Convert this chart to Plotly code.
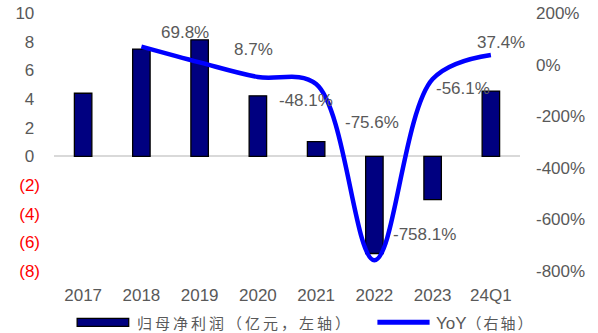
import plotly.graph_objects as go

# Net profit attributable to parent (100M CNY, left axis) and YoY growth (%, right axis)
categories = ["2017", "2018", "2019", "2020", "2021", "2022", "2023", "24Q1"]
net_profit = [4.40, 7.48, 8.13, 4.22, 1.03, -6.78, -3.02, 4.55]
yoy_pct = [None, 69.8, 8.7, -48.1, -75.6, -758.1, -56.1, 37.4]
yoy_labels = [None, "69.8%", "8.7%", "-48.1%", "-75.6%", "-758.1%", "-56.1%", "37.4%"]

left_ticks = [10, 8, 6, 4, 2, 0, -2, -4, -6, -8]
right_ticks = [200, 0, -200, -400, -600, -800]

bar_name = "归母净利润（亿元，左轴）"
line_name_latin = "YoY"
line_name_cjk = "（右轴）"

GREY = "#595959"
FONT = "Liberation Sans, Arial, sans-serif"
CJK_FONT = "Noto Sans CJK SC, sans-serif"


def left_label(v):
    if v < 0:
        return f"<span style='color:#FF0000'>({abs(v)})</span>"
    # pad positives so digits line up with the parenthesised negatives
    return f"{v}<span style='color:rgba(0,0,0,0)'>)</span>"


def spaced(text, px):
    return f"<span style='letter-spacing:{px}px'>{text}</span>"


fig = go.Figure()

fig.add_trace(go.Bar(
    x=categories, y=net_profit, name=bar_name,
    marker=dict(color="#000080", line=dict(color="#000000", width=1.3)),
    width=0.3, yaxis="y", showlegend=False,
))

fig.add_trace(go.Scatter(
    x=categories, y=yoy_pct, name=line_name_latin + line_name_cjk, mode="lines",
    line=dict(color="#0000FF", width=4.5, shape="spline", smoothing=1.0),
    yaxis="y2", connectgaps=False, showlegend=False,
))

# value labels beside each YoY point (x given as category index)
label_offsets = [None, (44, 14), (54, 13), (48, -23), (56, -38), (50, 26), (30, -9), (10, 12)]
for i, (val, txt, off) in enumerate(zip(yoy_pct, yoy_labels, label_offsets)):
    if val is None:
        continue
    fig.add_annotation(
        x=i, y=val, xref="x", yref="y2", text=txt, showarrow=False,
        xshift=off[0], yshift=off[1],
        font=dict(family=FONT, size=17, color=GREY),
    )

# legend drawn below the axis
fig.add_shape(type="rect", xref="paper", yref="paper",
              x0=0.0497, x1=0.1603, y0=-0.215, y1=-0.184,
              fillcolor="#000080", line=dict(color="#000000", width=1.3))
fig.add_annotation(x=0.174, y=-0.199, xref="paper", yref="paper",
                   text=spaced(bar_name, 3),
                   showarrow=False, xanchor="left", yanchor="middle",
                   font=dict(family=CJK_FONT, size=15, color=GREY))
fig.add_shape(type="line", xref="paper", yref="paper",
              x0=0.694, x1=0.806, y0=-0.199, y1=-0.199,
              line=dict(color="#0000FF", width=5))
fig.add_annotation(x=0.815, y=-0.199, xref="paper", yref="paper",
                   text=f"<span style='font-family:Liberation Sans;font-size:17px'>{line_name_latin}</span>"
                        + spaced(line_name_cjk, 2),
                   showarrow=False, xanchor="left", yanchor="middle",
                   font=dict(family=CJK_FONT, size=15, color=GREY))

fig.update_layout(
    width=598, height=333,
    margin=dict(l=53.5, r=78, t=13, b=62, autoexpand=False),
    plot_bgcolor="white", paper_bgcolor="white",
    font=dict(family=FONT, size=17, color=GREY),
    xaxis=dict(
        type="category", categoryorder="array", categoryarray=categories,
        range=[-0.5, len(categories) - 0.5], autorange=False,
        showgrid=False, showline=False, ticks="", automargin=False,
        tickfont=dict(family=FONT, size=17, color=GREY),
        ticklabelstandoff=12,
    ),
    yaxis=dict(
        range=[-8, 10], autorange=False, tickvals=left_ticks,
        ticktext=[left_label(v) for v in left_ticks],
        showgrid=False, showline=False, ticks="", automargin=False,
        zeroline=True, zerolinecolor="#D9D9D9", zerolinewidth=2,
        tickfont=dict(family=FONT, size=17, color=GREY),
        ticklabelstandoff=13,
    ),
    yaxis2=dict(
        range=[-800, 200], autorange=False, tickvals=right_ticks,
        ticktext=[f"{v}%" for v in right_ticks],
        overlaying="y", side="right", automargin=False,
        showgrid=False, showline=False, ticks="", zeroline=False,
        tickfont=dict(family=FONT, size=17, color=GREY),
        ticklabelstandoff=15,
    ),
)

fig.write_html("out.html")
